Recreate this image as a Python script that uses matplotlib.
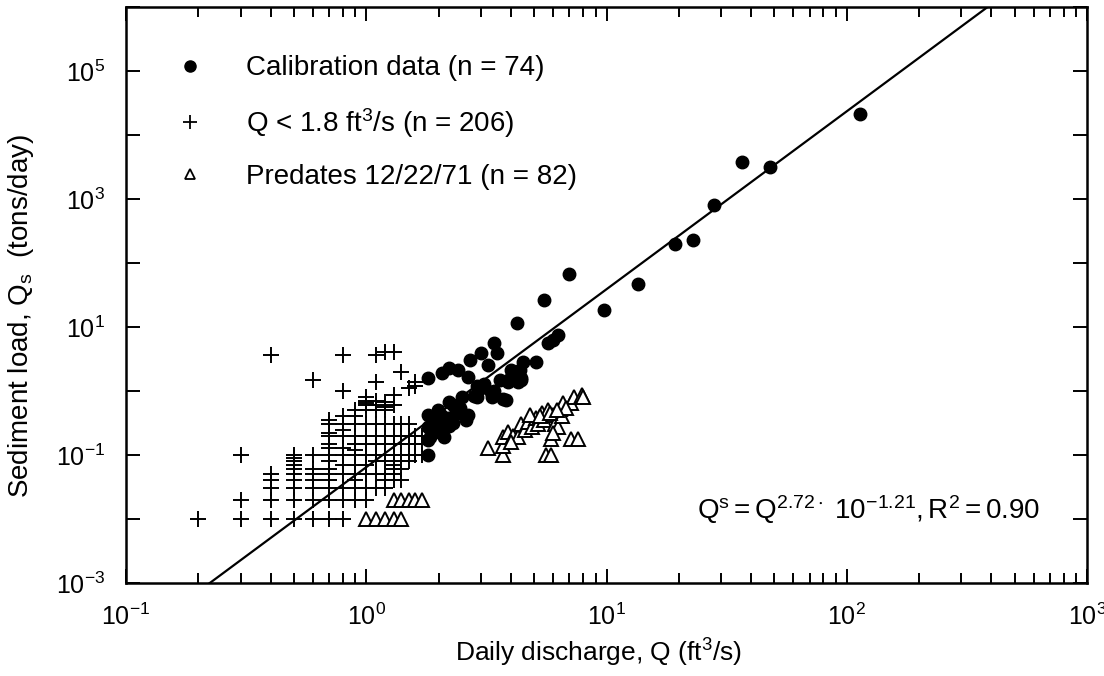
import numpy as np
import matplotlib
matplotlib.use("Agg")
import matplotlib.pyplot as plt
from matplotlib.ticker import LogLocator, FixedLocator, NullLocator, FuncFormatter
from matplotlib.lines import Line2D

plt.rcParams['font.family'] = ['Liberation Sans', 'DejaVu Sans']
plt.rcParams['mathtext.fontset'] = 'custom'
plt.rcParams['mathtext.rm'] = 'Liberation Sans'
plt.rcParams['mathtext.it'] = 'Liberation Sans:italic'

# calibration data (Q ft3/s, Qs tons/day)
cal_q = [114, 36.5, 48, 28, 19.2, 23, 13.5, 9.8, 6.95, 5.5, 4.26, 6.3, 5.7, 6.0,
         3.4, 3.0, 3.5, 2.7, 3.2, 4.5, 5.1, 2.2, 2.4, 1.8, 2.07, 2.66, 3.6, 4.0,
         4.4, 4.37, 3.0, 3.35, 3.8, 2.9, 2.5, 2.2, 1.98, 2.37, 2.66, 1.8, 1.9,
         2.18, 2.3, 1.8, 2.0, 1.85, 2.1, 1.8, 1.8, 2.0, 2.2, 2.4, 2.6, 1.9, 2.05,
         2.3, 2.8, 3.1, 3.9, 4.1, 4.3, 3.4, 4.0, 4.4, 3.7, 2.45, 2.9, 3.3]
cal_qs = [21000, 3800, 3200, 800, 200, 230, 47, 18.5, 68, 26, 11.5, 7.5, 5.6, 6.3,
          5.6, 3.9, 3.9, 3.0, 2.55, 2.8, 2.8, 2.3, 2.15, 1.6, 1.9, 1.66, 1.5, 1.66,
          1.5, 2.1, 1.1, 0.8, 0.72, 0.8, 0.8, 0.67, 0.5, 0.5, 0.42, 0.42, 0.35,
          0.38, 0.32, 0.27, 0.27, 0.19, 0.19, 0.17, 0.1, 0.3, 0.28, 0.45, 0.35, 0.22, 0.42,
          0.6, 0.85, 1.3, 1.4, 1.9, 1.4, 1.0, 2.1, 1.6, 0.75, 0.55, 1.2, 0.95]

# Q < 1.8 ft3/s: discharge columns and the loads recorded at each
plus_q = [0.2, 0.3, 0.4, 0.5, 0.6, 0.7, 0.8, 0.9, 1.0, 1.1, 1.2, 1.3, 1.4, 1.5, 1.6, 1.7]
plus_qs = [
    [0.01],
    [0.01, 0.02, 0.1],
    [0.01, 0.02, 0.03, 0.04, 0.05, 3.7],
    [0.01, 0.02, 0.03, 0.04, 0.05, 0.06, 0.07, 0.08, 0.09, 0.1],
    [0.01, 0.02, 0.03, 0.04, 0.05, 0.06, 0.1, 1.5],
    [0.01, 0.02, 0.03, 0.04, 0.05, 0.06, 0.08, 0.1, 0.13, 0.15, 0.2, 0.22, 0.3, 0.35],
    [0.01, 0.02, 0.03, 0.05, 0.07, 0.1, 0.13, 0.2, 0.25, 0.3, 0.4, 1.0, 3.7],
    [0.02, 0.03, 0.04, 0.05, 0.07, 0.1, 0.12, 0.15, 0.2, 0.3, 0.4, 0.5],
    [0.02, 0.03, 0.05, 0.07, 0.1, 0.15, 0.2, 0.3, 0.5, 0.6, 0.65, 0.7, 0.8],
    [0.03, 0.05, 0.08, 0.1, 0.15, 0.2, 0.3, 0.5, 0.6, 0.7, 1.4, 3.7],
    [0.03, 0.04, 0.05, 0.08, 0.1, 0.15, 0.2, 0.3, 0.5, 0.56, 0.67, 4.0],
    [0.04, 0.05, 0.06, 0.07, 0.1, 0.15, 0.2, 0.3, 0.6, 0.87, 4.1],
    [0.04, 0.06, 0.08, 0.1, 0.15, 0.2, 0.3, 2.0],
    [0.08, 0.1, 0.15, 0.2, 0.3, 1.1],
    [0.1, 0.15, 0.2, 1.2, 1.4],
    [0.1, 0.15, 0.2],
]

# predates 12/22/71
pre_q = [1.0, 1.1, 1.2, 1.3, 1.4, 1.3, 1.4, 1.5, 1.6, 1.7,
         3.2, 3.7, 3.7, 3.7, 3.9, 4.1, 4.3, 4.4, 4.6, 4.7, 4.9, 5.1, 5.2, 5.4,
         5.5, 5.7, 5.6, 5.9, 5.9, 6.0, 6.1, 6.3, 6.4, 6.6, 6.5, 7.1, 7.6, 7.1,
         7.3, 7.9, 8.0, 6.8, 4.0, 4.8, 5.3, 5.8, 6.2, 6.0]
pre_qs = [0.01, 0.01, 0.01, 0.01, 0.01, 0.02, 0.02, 0.02, 0.02, 0.02,
          0.13, 0.1, 0.14, 0.19, 0.23, 0.2, 0.19, 0.3, 0.25, 0.33, 0.27, 0.38, 0.3, 0.46,
          0.35, 0.5, 0.1, 0.1, 0.18, 0.42, 0.3, 0.27, 0.53, 0.65, 0.4, 0.18, 0.18, 0.65,
          0.8, 0.87, 0.8, 0.55, 0.16, 0.42, 0.4, 0.45, 0.5, 0.22]

# fitted line as drawn
fit_slope = 2.78
fit_logc = -1.19
fit_range = [0.1, 1000]

fig = plt.figure(figsize=(11.04, 6.76), dpi=100)
ax = fig.add_axes([126 / 1104, 93 / 676, 961 / 1104, 576 / 676])

xs, ys = [], []
for q, col in zip(plus_q, plus_qs):
    xs += [q] * len(col)
    ys += col
ax.plot(xs, ys, ls='none', marker='+', ms=11, mew=1.4, color='black')
ax.plot(pre_q, pre_qs, ls='none', marker='^', ms=9.5, mew=1.4, mfc='white',
        mec='black')
ax.plot(cal_q, cal_qs, ls='none', marker='o', ms=9, color='black')

fx = np.array(fit_range)
ax.plot(fx, 10 ** (fit_slope * np.log10(fx) + fit_logc), color='black', lw=1.6)

ax.set_xscale('log')
ax.set_yscale('log')
ax.set_xlim(0.1, 1000)
ax.set_ylim(1e-3, 1e6)

ax.xaxis.set_major_locator(LogLocator(base=10, numticks=10))
ax.xaxis.set_minor_locator(LogLocator(base=10, subs=range(2, 10), numticks=10))
ax.yaxis.set_major_locator(FixedLocator([10.0 ** k for k in range(-3, 7)]))
ax.yaxis.set_minor_locator(NullLocator())


def xfmt(v, pos):
    return r'$\mathregular{10^{%d}}$' % round(np.log10(v))


def yfmt(v, pos):
    k = round(np.log10(v))
    return r'$\mathregular{10^{%d}}$' % k if k % 2 else ''


ax.xaxis.set_major_formatter(FuncFormatter(xfmt))
ax.yaxis.set_major_formatter(FuncFormatter(yfmt))

ax.tick_params(which='both', direction='in', top=True, right=True, width=1.4,
               colors='black', labelsize=18)
ax.tick_params(which='major', length=10)
ax.tick_params(which='minor', length=7)
ax.tick_params(axis='x', pad=15)
ax.tick_params(axis='y', pad=15)
for s in ax.spines.values():
    s.set_linewidth(1.8)

ax.set_xlabel(r'Daily discharge, Q (ft$\mathregular{^3}$/s)', fontsize=19)
ax.set_ylabel(r'Sediment load, Q$\mathregular{_s}$  (tons/day)', fontsize=20)
ax.xaxis.set_label_coords(0.492, -0.094)
ax.yaxis.set_label_coords(-0.094, 0.4635)

ax.text(0.951, 0.127,
        r'$\mathregular{Q^s = Q^{2.72\cdot}\ 10^{-1.21}, R^2 = 0.90}$',
        transform=ax.transAxes, ha='right', va='center', fontsize=20)

handles = [
    Line2D([], [], ls='none', marker='o', ms=8, color='black'),
    Line2D([], [], ls='none', marker='+', ms=10, mew=1.3, color='black'),
    Line2D([], [], ls='none', marker='^', ms=7, mew=1.3, mfc='white', mec='black'),
]
labels = ['Calibration data (n = 74)',
          r'Q < 1.8 ft$\mathregular{^3}$/s (n = 206)',
          'Predates 12/22/71 (n = 82)']
ax.legend(handles, labels, loc='upper left', bbox_to_anchor=(0.0437, 0.916),
          frameon=False, fontsize=20, handlelength=1.6, handletextpad=1.22,
          labelspacing=0.88, borderaxespad=0, borderpad=0)

fig.savefig('out.png', dpi=100)
